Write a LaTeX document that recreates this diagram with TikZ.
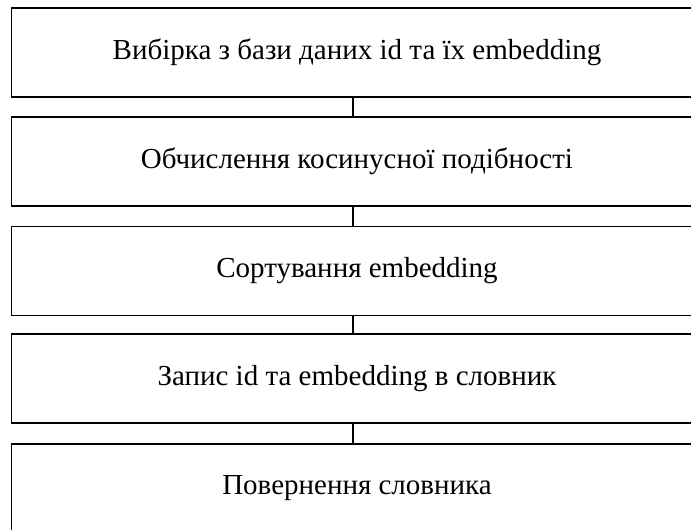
\documentclass[tikz,border=0pt]{standalone}
\usepackage{fontspec}
\setmainfont{Liberation Serif}
\begin{document}
\begin{tikzpicture}[x=1pt,y=1pt,
  stepbox/.style={draw=black, line width=1.8pt, minimum width=691pt, minimum height=89pt, inner sep=0pt, font=\fontsize{29}{34}\selectfont},
  link/.style={draw=black, line width=1.8pt}]
\useasboundingbox (0,0) rectangle (691,530);
\node[stepbox] (b1) at (357,477.5) {Вибірка з бази даних id та їх embedding};
\node[stepbox] (b2) at (357,368.5) {Обчислення косинусної подібності};
\node[stepbox] (b3) at (357,259) {Сортування embedding};
\node[stepbox] (b4) at (357,151.5) {Запис id та embedding в словник};
\node[stepbox] (b5) at (357,41.5) {Повернення словника};
\draw[link] ([xshift=-4pt]b1.south) -- ([xshift=-4pt]b2.north);
\draw[link] ([xshift=-4pt]b2.south) -- ([xshift=-4pt]b3.north);
\draw[link] ([xshift=-4pt]b3.south) -- ([xshift=-4pt]b4.north);
\draw[link] ([xshift=-4pt]b4.south) -- ([xshift=-4pt]b5.north);
\end{tikzpicture}
\end{document}
